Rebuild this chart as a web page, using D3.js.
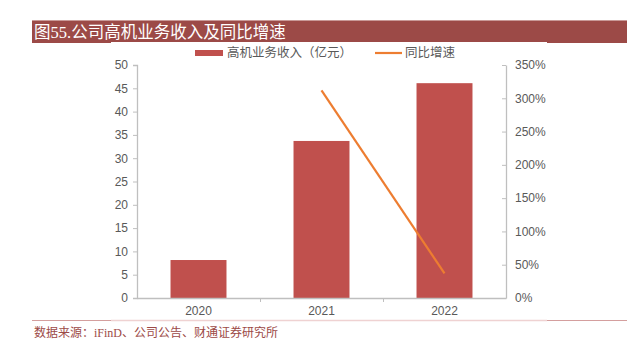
<!DOCTYPE html>
<html><head><meta charset="utf-8">
<script src="https://cdn.jsdelivr.net/npm/d3@7/dist/d3.min.js"></script>
<style>body{margin:0;background:#fff}svg{display:block}</style>
</head><body><svg id="c" width="639" height="346"></svg>
<script>
const categories = ["2020","2021","2022"];
const revenue = [8.15, 33.7, 46.1];
const growthYears = ["2021","2022"];
const growth = [3.12, 0.37];
const leftTicks = [0,5,10,15,20,25,30,35,40,45,50];
const rightTicks = [0,0.5,1,1.5,2,2.5,3,3.5];
const titleText = "图55.公司高机业务收入及同比增速";
const sourceText = "数据来源：iFinD、公司公告、财通证券研究所";
const legendNames = ["高机业务收入（亿元）","同比增速"];

const svg = d3.select("#c");
const cjk = "'Liberation Serif','Noto Sans CJK SC',serif";
const sans = "'Liberation Sans',Arial,'Noto Sans CJK SC',sans-serif";

// title bar
svg.append("rect").attr("x",32).attr("y",20).attr("width",595).attr("height",23).attr("fill","#9C4A47");
svg.append("line").attr("x1",32).attr("x2",627).attr("y1",20.5).attr("y2",20.5).attr("stroke","#c99a98").attr("stroke-width",1);
svg.append("rect").attr("x",111).attr("y",42).attr("width",436).attr("height",2).attr("fill","#fff");
svg.append("text").attr("x",34).attr("y",38).attr("fill","#fff").attr("font-family",cjk).attr("font-size",16.5).text(titleText);

// bottom rule
svg.append("line").attr("x1",32).attr("x2",627).attr("y1",320.5).attr("y2",320.5).attr("stroke","#d49f9e").attr("stroke-width",1.2);
svg.append("line").attr("x1",111).attr("x2",547).attr("y1",320.5).attr("y2",320.5).attr("stroke","#efd2d2").attr("stroke-width",1.4);
svg.append("text").attr("x",34).attr("y",337).attr("fill","#9C4A47").attr("font-family",cjk).attr("font-size",12).text(sourceText);

const x = d3.scaleBand().domain(categories).range([137,506]).paddingInner(0.545).paddingOuter(0.2725);
const xb = d3.scaleBand().domain(categories).range([137,506]);
const yL = d3.scaleLinear().domain([0,50]).range([298,65]);
const yR = d3.scaleLinear().domain([0,3.5]).range([298,65]);

// bars
svg.append("g").selectAll("rect").data(categories).join("rect")
  .attr("x",d=>x(d)).attr("width",x.bandwidth())
  .attr("y",(d,i)=>yL(revenue[i])).attr("height",(d,i)=>298-yL(revenue[i]))
  .attr("fill","#C0504D");

// left axis
const gl = svg.append("g").attr("transform","translate(137,0)")
  .call(d3.axisLeft(yL).tickValues(leftTicks).tickSize(4).tickPadding(5).tickFormat(d3.format("d")));
// right axis
const gr = svg.append("g").attr("transform","translate(506,0)")
  .call(d3.axisRight(yR).tickValues(rightTicks).tickSizeInner(-4).tickSizeOuter(0).tickPadding(8).tickFormat(d3.format(".0%")));
// x axis
const gx = svg.append("g").attr("transform","translate(0,298)")
  .call(d3.axisBottom(xb).tickSize(0).tickPadding(8));
// band boundary ticks
svg.append("g").selectAll("line").data(categories.slice(1)).join("line")
  .attr("x1",d=>xb(d)+0.5).attr("x2",d=>xb(d)+0.5).attr("y1",298).attr("y2",302)
  .attr("stroke","#bfbfbf");

[gl,gr,gx].forEach(g=>{
  g.selectAll("path.domain").attr("stroke","#bfbfbf").attr("stroke-width",1.3);
  g.selectAll(".tick line").attr("stroke","#bfbfbf");
  g.selectAll("text").attr("fill","#595959").attr("font-family",sans).attr("font-size",12);
});
gr.selectAll("text").attr("x",9);

// growth line
const line = d3.line().x((d,i)=>xb(growthYears[i])+xb.bandwidth()/2).y(d=>yR(d));
svg.append("path").datum(growth).attr("d",line).attr("fill","none").attr("stroke","#ED7D31").attr("stroke-width",2.2);

// legend
svg.append("rect").attr("x",195).attr("y",50).attr("width",28).attr("height",6).attr("fill","#C0504D");
svg.append("text").attr("x",227).attr("y",57).attr("fill","#595959").attr("font-family",cjk).attr("font-size",12.5).text(legendNames[0]);
svg.append("line").attr("x1",375).attr("x2",402).attr("y1",53).attr("y2",53).attr("stroke","#ED7D31").attr("stroke-width",2.2);
svg.append("text").attr("x",405).attr("y",57).attr("fill","#595959").attr("font-family",cjk).attr("font-size",12.5).text(legendNames[1]);
</script></body></html>
